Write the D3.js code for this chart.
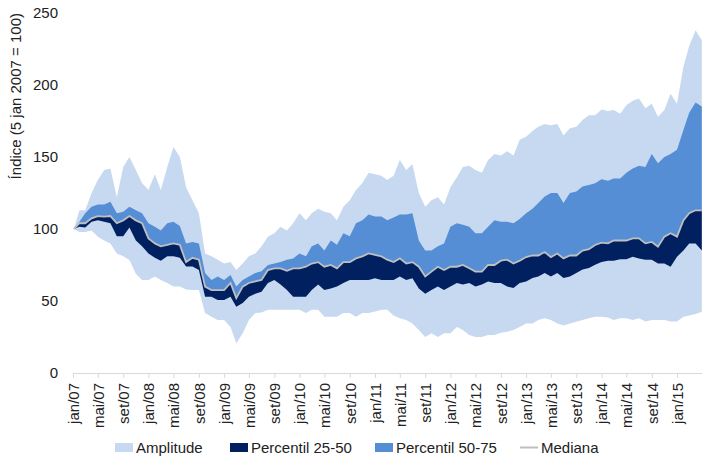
<!DOCTYPE html>
<html><head><meta charset="utf-8">
<script src="https://cdn.jsdelivr.net/npm/d3@7"></script>
<style>
html,body{margin:0;padding:0;background:#fff;}
svg{display:block;font-family:Arial,"Liberation Sans",sans-serif;}
</style></head>
<body><svg id="c" width="713" height="465"></svg>
<script>
// Monthly observations: index 0 = 5 jan 2007, then 1st of each month up to mai/15
const startDate = "2007-01-05";
const maxVals = [100,113,113,125,134,141,142,122,143,150,141,132,127,138,127,143,157,150,129,120,111,83,81,78.7,76,77,71.5,76,81,83,88,94.7,97,101.6,99,104,111,106,111,114,112,111,106,115.5,120,127,132,139,138,137,134,137,148,141,145,125,115.5,120,122,117,129,136,143,144,141,139,148,152,151,154,151,162,164,168,171,173,172,173,165,170,171,175.7,179,179,183,182,182.6,180,186,189,190.7,183.8,187,178,182.6,194,187,212.7,227,238,231];
const p75Vals = [100,105,111,115.5,117,117,119,111,112,115.5,113,111,104,101.6,99,104,105,102,90,91,90,69.4,64.6,67,64.6,68,60,64.6,67,69.4,70.6,75,76,77,78.7,79.6,83,81,88,90,85,92,89,97,95,104,106,110,108.6,108.6,106,108,110,110,111,92,85,85,88,90,101.6,104,103,101.6,97,97,101.6,106,105,105,104,107,111,114,118,122.5,125,125,118,125,126,129.6,130.6,131.8,134.5,133.5,135,135,139,142,144,143,152,145.6,150,152,155,168.8,180.8,187.8,185];
const medVals = [100,104,104,107.4,109,108.6,109,104,106,109,106,104,93.5,90,88,89,90,89,77,80,78.7,60,57.6,57.6,57.6,62.5,52,60,62.5,63.6,64.6,71.5,72.7,72.7,71,72.7,72.7,73.8,76,77,73.8,75,72.7,77,77,79.6,81,83,82,81,78.7,77,79.6,76,77,73.8,67,70.4,73.8,71.5,73.8,73.8,75,72.7,70.4,70.4,75,75,78,78.7,76,78,80.5,81.6,81.6,84,80.5,83,79.6,81.6,81.6,85,86,88.9,90.5,90,92,92,92,93.5,93.5,90,91,87.7,94.7,97,94.7,106,111,113,113];
const p25Vals = [100,101.6,101,105,106,105,104,95,95,101,92,88,83,80,78,81,81,80,74,74,71.5,53,53,50.7,50.7,53,46,48.6,53,55,56.5,62.5,64.6,61.4,57.6,53,53,53,57.6,61.4,57.6,58.6,60,62.5,64.6,64.6,64.6,64.6,65.8,64.6,64.6,64.6,67,64.6,65.8,58.6,55,57.6,60,57.6,60,62.5,61.4,62.5,60,61.4,63.6,62.5,62.5,60,59,62.5,63.6,66,67,69.4,67,69.4,66,67,69.4,71.8,72.9,75.2,77,78,78,79,79,80.7,79.6,78.7,78.7,76,76,73.8,80.7,85,90,90,85];
const minVals = [100,98,98,99,94.7,92,90,83,81,78.5,69,64.6,64.6,67,64.6,62.5,60,60,58,57.6,57.6,41.6,39,36.8,36.8,32,20.6,27.6,36.8,41.6,42,44,44,44,44,44,44,41.6,44,44,39,39,39,41.6,41.6,39,41.6,41.6,42.7,44,44,40,38,36.8,34.4,29.8,25,27.6,25,27.6,27.6,32,29.8,26.4,25,25,26.4,26.4,28,28.7,29.8,32,34.4,34.4,36.8,38,36.8,34.4,33,34.4,35.6,36.8,38,39,39,38.5,36.8,38,38,36.8,38,35.7,36.8,36.8,36.8,35.7,35.7,39,40,41,42.6];
const yTicks = [0,50,100,150,200,250];
const xTickLabels = ["jan/07","mai/07","set/07","jan/08","mai/08","set/08","jan/09","mai/09","set/09","jan/10","mai/10","set/10","jan/11","mai/11","set/11","jan/12","mai/12","set/12","jan/13","mai/13","set/13","jan/14","mai/14","set/14","jan/15"];
const yTitle = "Índice (5 jan 2007 = 100)";
const legendItems = ["Amplitude","Percentil 25-50","Percentil 50-75","Mediana"];
const colors = {amp:"#c6d9f0", p2550:"#002060", p5075:"#558ed5", med:"#bfbfbf"};

const parse = d3.timeParse("%Y-%m-%d");
const t0 = parse(startDate);
const dates = maxVals.map((v,i)=> i===0 ? t0 : new Date(2007, i, 1));
const data = dates.map((d,i)=>({d, max:maxVals[i], p75:p75Vals[i], med:medVals[i], p25:p25Vals[i], min:minVals[i]}));

const svg = d3.select("#c");
const x = d3.scaleTime().domain([new Date(2007,0,1), new Date(2015,4,1)]).range([73, 701.8]);
const y = d3.scaleLinear().domain([0,250]).range([373,13]);

const area = (lo,hi)=> d3.area().x(d=>x(d.d)).y0(d=>y(d[lo])).y1(d=>y(d[hi]));
svg.append("path").datum(data).attr("d", area("min","max")).attr("fill", colors.amp);
svg.append("path").datum(data).attr("d", area("med","p75")).attr("fill", colors.p5075);
svg.append("path").datum(data).attr("d", area("p25","med")).attr("fill", colors.p2550);
svg.append("path").datum(data).attr("d", d3.line().x(d=>x(d.d)).y(d=>y(d.med))).attr("fill","none").attr("stroke",colors.med).attr("stroke-width",1.8);

// y axis labels
const ya = svg.append("g").attr("transform","translate(58,0)")
  .call(d3.axisLeft(y).tickValues(yTicks).tickSize(0).tickPadding(0));
ya.select(".domain").remove();
ya.selectAll("text").attr("font-size",15).attr("fill","#222").attr("font-family","Arial, 'Liberation Sans', sans-serif");

// x axis
const tickDates = xTickLabels.map(s=>{const [m,yy]=s.split("/");const mi={jan:0,mai:4,set:8}[m];return new Date(2000+ +yy, mi, 1);});
const xa = svg.append("g").attr("transform","translate(0,373)")
  .call(d3.axisBottom(x).tickValues(tickDates).tickSize(5).tickSizeOuter(0).tickFormat((d,i)=>xTickLabels[i]));
xa.select(".domain").attr("stroke","#d9d9d9").attr("d","M73,0.5H702");
xa.selectAll(".tick line").attr("stroke","#d9d9d9");
xa.selectAll(".tick text").attr("font-size",15).attr("fill","#222")
  .attr("font-family","Arial, 'Liberation Sans', sans-serif")
  .attr("transform","rotate(-90)").attr("text-anchor","end")
  .attr("x",-10).attr("y",0).attr("dy","0.35em");

// y title
svg.append("text").attr("transform","translate(21,13) rotate(-90)").attr("text-anchor","end")
  .attr("font-size",15).attr("fill","#222").text(yTitle);

// legend
const lg = svg.append("g");
const lx = [115,230,375,520];
const lfill = [colors.amp, colors.p2550, colors.p5075, null];
legendItems.forEach((t,i)=>{
  if (lfill[i]) lg.append("rect").attr("x",lx[i]).attr("y",443).attr("width",18).attr("height",9).attr("fill",lfill[i]);
  else lg.append("line").attr("x1",lx[i]).attr("x2",lx[i]+18).attr("y1",447.5).attr("y2",447.5).attr("stroke",colors.med).attr("stroke-width",2);
  lg.append("text").attr("x",lx[i]+21).attr("y",452.5).attr("font-size",15).attr("fill","#222").text(t);
});
</script></body></html>
